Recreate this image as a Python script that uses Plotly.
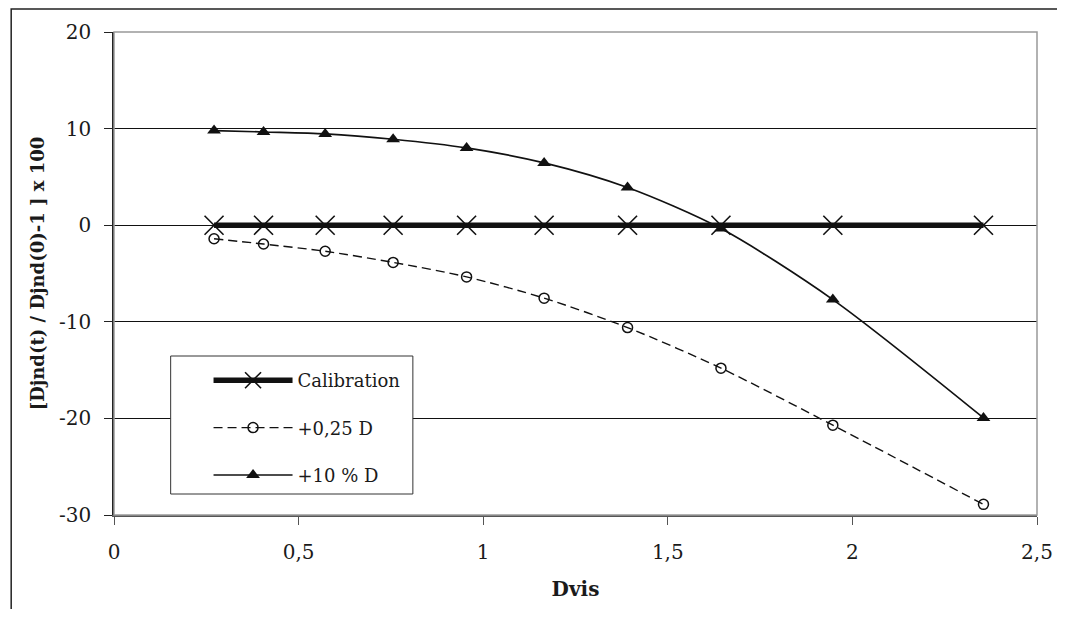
import plotly.graph_objects as go

# ---- data ----
dvis = [0.271, 0.405, 0.572, 0.756, 0.955, 1.165, 1.391, 1.644, 1.947, 2.355]
calibration = [0, 0, 0, 0, 0, 0, 0, 0, 0, 0]
plus_025 = [-1.4, -1.95, -2.7, -3.85, -5.35, -7.55, -10.6, -14.8, -20.7, -28.9]
plus_10pct = [9.8, 9.65, 9.45, 8.9, 8.0, 6.45, 3.9, -0.35, -7.7, -19.95]
x_ticks = [0, 0.5, 1, 1.5, 2, 2.5]
x_ticklabels = ["0", "0,5", "1", "1,5", "2", "2,5"]
y_ticks = [-30, -20, -10, 0, 10, 20]
y_ticklabels = ["-30", "-20", "-10", "0", "10", "20"]

# page has an 8px body margin; page is slightly wider than the window and
# gets squeezed horizontally by K in the screenshot
OFF = 8
K = 1065 / 1073
W, H = 1065 - OFF, 617 - 2 * OFF
L, T = 106, 32 - OFF
R = 18
B = H - (515 - OFF)
PW, PH = W - L - R, H - T - B

def px_x(p):
    return (p / K - OFF - L) / PW

def px_y(p):
    return (H - B - (p - OFF)) / PH

FONT = "DejaVu Serif"
INK = "#1a1a1a"

fig = go.Figure()

fig.add_trace(go.Scatter(
    x=dvis, y=calibration, name="Calibration", mode="lines+markers",
    line=dict(color="#111111", width=5.5),
    marker=dict(symbol="x-thin", size=19, line=dict(color="#111111", width=1.6)),
    legendgroup="a",
))
fig.add_trace(go.Scatter(
    x=dvis, y=plus_025, name="+0,25 D", mode="lines+markers",
    line=dict(color="#111111", width=1.4, dash="9px,5px", shape="spline", smoothing=0.8),
    marker=dict(symbol="circle-open", size=10, color="#111111", line=dict(width=1.5)),
    legendgroup="b",
))
fig.add_trace(go.Scatter(
    x=dvis, y=plus_10pct, name="+10 % D", mode="lines+markers",
    line=dict(color="#111111", width=1.7, shape="spline", smoothing=0.8),
    marker=dict(symbol="triangle-up", size=12, color="#111111"),
    legendgroup="c",
))

# outer frame
fig.add_shape(type="rect", xref="paper", yref="paper",
              x0=px_x(10), x1=px_x(1100), y0=px_y(700), y1=px_y(9),
              line=dict(color="#222222", width=1.5), fillcolor="rgba(0,0,0,0)", layer="below")
# plot area border (top / right)
fig.add_shape(type="rect", xref="paper", yref="paper", x0=0, x1=1, y0=0, y1=1,
              line=dict(color="#999999", width=1.5), layer="above")
# legend box
fig.add_shape(type="rect", xref="paper", yref="paper",
              x0=px_x(170), x1=px_x(413), y0=px_y(494), y1=px_y(356),
              line=dict(color="#333333", width=1), fillcolor="white", layer="above")

fig.update_layout(
    width=W, height=H,
    margin=dict(l=L, r=R, t=T, b=B),
    paper_bgcolor="white", plot_bgcolor="white",
    separators=", ",
    font=dict(family=FONT, size=20, color=INK),
    showlegend=True,
    legend=dict(
        x=px_x(208), y=px_y(362), xanchor="left", yanchor="top",
        bgcolor="rgba(0,0,0,0)", borderwidth=0,
        font=dict(family=FONT, size=18, color=INK),
        itemwidth=79, tracegroupgap=21,
    ),
    xaxis=dict(
        range=[0, 2.5], tickvals=x_ticks, ticktext=x_ticklabels,
        showgrid=False, zeroline=False,
        showline=True, linecolor="#555555", linewidth=1.5,
        ticks="outside", ticklen=8, tickcolor="#555555",
        ticklabelstandoff=10,
        title=dict(text="<b>Dvis</b>", font=dict(family=FONT, size=20, color=INK), standoff=19),
    ),
    yaxis=dict(
        range=[-30, 20], tickvals=y_ticks, ticktext=y_ticklabels,
        showgrid=True, gridcolor="#111111", gridwidth=1,
        zeroline=False,
        showline=True, linecolor="#222222", linewidth=1.5,
        ticks="outside", ticklen=8, tickcolor="#222222",
        ticklabelstandoff=9,
        title=dict(text="<b>[Djnd(t) / Djnd(0)-1 ] x 100</b>",
                   font=dict(family=FONT, size=18, color=INK), standoff=10),
    ),
)

fig.write_html("out.html", config={"displayModeBar": False})
